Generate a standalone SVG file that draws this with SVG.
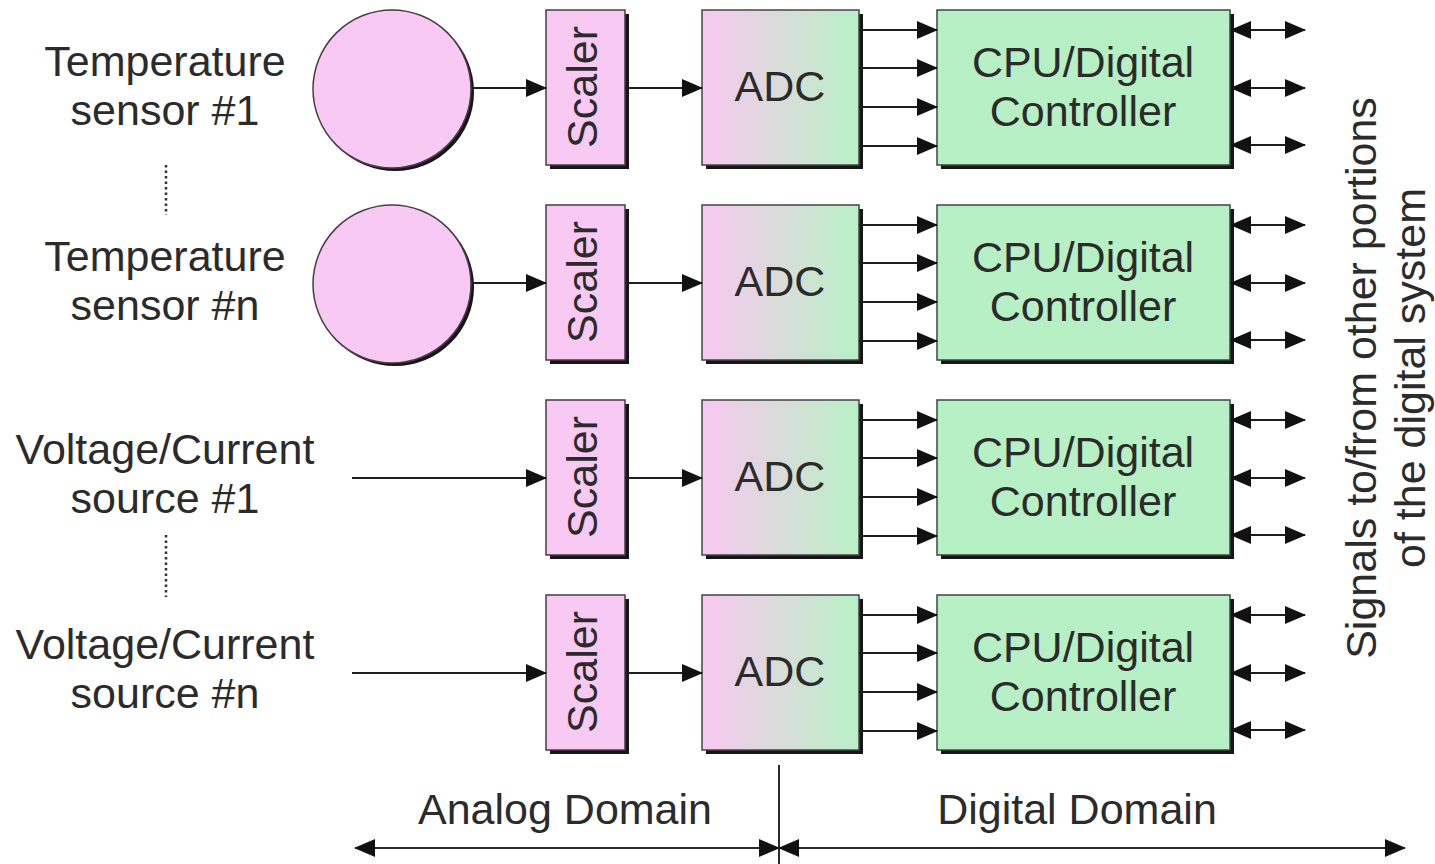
<svg xmlns="http://www.w3.org/2000/svg" width="1435" height="864" viewBox="0 0 1435 864">
  <style>
    .lbl { font-family: "Liberation Sans", Arial, sans-serif; font-size: 43px; fill: #2b2b2b; }
    .mid { text-anchor: middle; }
    .pink { fill: #f8caf3; stroke: #4a3a48; stroke-width: 1.5; }
    .green { fill: #b6f0c4; stroke: #3a4a3e; stroke-width: 1.5; }
    .adc { fill: url(#adcGrad); stroke: #444; stroke-width: 1.5; }
    .shadow { fill: #161616; }
    .wire { stroke: #1e1e1e; stroke-width: 2.2; fill: none; }
    .dots { stroke: #333; stroke-width: 2.5; stroke-dasharray: 2.5 3; fill: none; }
    .axis { stroke: #2a2a2a; stroke-width: 2; fill: none; }
  </style>
  <defs>
    <linearGradient id="adcGrad" x1="0" y1="0" x2="1" y2="0">
      <stop offset="0" stop-color="#f8c8f2"/>
      <stop offset="0.5" stop-color="#d9dcd9"/>
      <stop offset="1" stop-color="#b8f0c6"/>
    </linearGradient>
    <marker id="head" viewBox="0 0 21 18" refX="20" refY="9" markerWidth="21" markerHeight="18" markerUnits="userSpaceOnUse" orient="auto-start-reverse">
      <path d="M0,0 L21,9 L0,18 Z" fill="#111"/>
    </marker>
    <!-- one channel: sensor/source -> scaler -> ADC -> CPU -->
    <g id="scalerShape">
      <rect class="shadow" x="550" y="14" width="79" height="155"/>
      <rect class="pink" x="546" y="10" width="79" height="155"/>
      <text class="lbl mid" transform="translate(597,87) rotate(-90)">Scaler</text>
    </g>
    <g id="adcShape">
      <rect class="shadow" x="706" y="14" width="157" height="155"/>
      <rect class="adc" x="702" y="10" width="157" height="155"/>
      <text class="lbl mid" x="780" y="101">ADC</text>
    </g>
    <g id="cpuShape">
      <rect class="shadow" x="941" y="14" width="293" height="155"/>
      <rect class="green" x="937" y="10" width="293" height="155"/>
      <text class="lbl mid" x="1083" y="77">CPU/Digital</text>
      <text class="lbl mid" x="1083" y="126">Controller</text>
    </g>
    <g id="channelWires">
      <line class="wire" x1="625" y1="88" x2="702" y2="88" marker-end="url(#head)"/>
      <line class="wire" x1="859" y1="30" x2="937" y2="30" marker-end="url(#head)"/>
      <line class="wire" x1="859" y1="68" x2="937" y2="68" marker-end="url(#head)"/>
      <line class="wire" x1="859" y1="107" x2="937" y2="107" marker-end="url(#head)"/>
      <line class="wire" x1="859" y1="146" x2="937" y2="146" marker-end="url(#head)"/>
      <line class="wire" x1="1231" y1="30" x2="1305" y2="30" marker-start="url(#head)" marker-end="url(#head)"/>
      <line class="wire" x1="1231" y1="88" x2="1305" y2="88" marker-start="url(#head)" marker-end="url(#head)"/>
      <line class="wire" x1="1231" y1="145" x2="1305" y2="145" marker-start="url(#head)" marker-end="url(#head)"/>
    </g>
  </defs>

  <rect width="1435" height="864" fill="#ffffff"/>

  <!-- input labels -->
  <g id="inputLabels">
    <text class="lbl mid" x="165" y="76">Temperature</text>
    <text class="lbl mid" x="165" y="125">sensor #1</text>
    <line class="dots" x1="166" y1="165" x2="166" y2="215"/>
    <text class="lbl mid" x="165" y="271">Temperature</text>
    <text class="lbl mid" x="165" y="320">sensor #n</text>
    <text class="lbl mid" x="165" y="464">Voltage/Current</text>
    <text class="lbl mid" x="165" y="513">source #1</text>
    <line class="dots" x1="166" y1="535" x2="166" y2="597"/>
    <text class="lbl mid" x="165" y="659">Voltage/Current</text>
    <text class="lbl mid" x="165" y="708">source #n</text>
  </g>

  <!-- sensors -->
  <g id="sensor1">
    <circle class="shadow" cx="395" cy="92" r="79"/>
    <circle class="pink" cx="392" cy="89" r="79"/>
  </g>
  <g id="sensorN">
    <circle class="shadow" cx="395" cy="287" r="79"/>
    <circle class="pink" cx="392" cy="284" r="79"/>
  </g>

  <!-- channel 1 -->
  <g id="scaler1"><use href="#scalerShape"/></g>
  <g id="adc1"><use href="#adcShape"/></g>
  <g id="cpu1"><use href="#cpuShape"/></g>
  <!-- channel 2 -->
  <g id="scaler2" transform="translate(0,195)"><use href="#scalerShape"/></g>
  <g id="adc2" transform="translate(0,195)"><use href="#adcShape"/></g>
  <g id="cpu2" transform="translate(0,195)"><use href="#cpuShape"/></g>
  <!-- channel 3 -->
  <g id="scaler3" transform="translate(0,390)"><use href="#scalerShape"/></g>
  <g id="adc3" transform="translate(0,390)"><use href="#adcShape"/></g>
  <g id="cpu3" transform="translate(0,390)"><use href="#cpuShape"/></g>
  <!-- channel 4 -->
  <g id="scaler4" transform="translate(0,585)"><use href="#scalerShape"/></g>
  <g id="adc4" transform="translate(0,585)"><use href="#adcShape"/></g>
  <g id="cpu4" transform="translate(0,585)"><use href="#cpuShape"/></g>

  <!-- connectors -->
  <g id="connectors">
    <line class="wire" x1="472" y1="88" x2="546" y2="88" marker-end="url(#head)"/>
    <line class="wire" x1="472" y1="283" x2="546" y2="283" marker-end="url(#head)"/>
    <line class="wire" x1="352" y1="478" x2="546" y2="478" marker-end="url(#head)"/>
    <line class="wire" x1="352" y1="673" x2="546" y2="673" marker-end="url(#head)"/>
    <use href="#channelWires"/>
    <use href="#channelWires" transform="translate(0,195)"/>
    <use href="#channelWires" transform="translate(0,390)"/>
    <use href="#channelWires" transform="translate(0,585)"/>
  </g>

  <!-- side caption -->
  <g id="sideCaption">
    <text class="lbl mid" transform="translate(1376,378) rotate(-90)">Signals to/from other portions</text>
    <text class="lbl mid" transform="translate(1425,378) rotate(-90)">of the digital system</text>
  </g>

  <!-- domain axis -->
  <g id="domainAxis">
    <line class="axis" x1="779" y1="765" x2="779" y2="864"/>
    <line class="axis" x1="355" y1="848" x2="779" y2="848" marker-start="url(#head)" marker-end="url(#head)"/>
    <line class="axis" x1="779" y1="848" x2="1405" y2="848" marker-start="url(#head)" marker-end="url(#head)"/>
    <text class="lbl mid" x="565" y="824">Analog Domain</text>
    <text class="lbl mid" x="1077" y="824">Digital Domain</text>
  </g>
</svg>
